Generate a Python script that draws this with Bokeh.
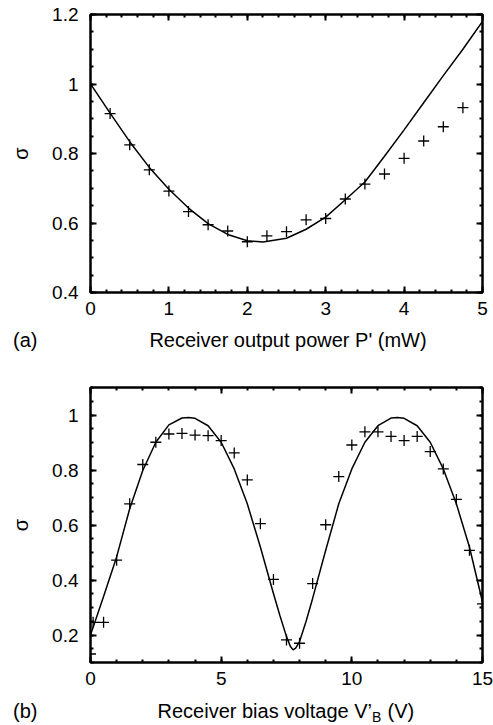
from bokeh.plotting import figure
from bokeh.models import LinearAxis, SingleIntervalTicker, FixedTicker, Range1d
from bokeh.layouts import column
from bokeh.core.properties import value
from bokeh.embed import file_html
from bokeh.resources import INLINE

FONT = "Liberation Sans"

# ---------------- data: panel (a) ----------------
a_meas_x = [0.25, 0.5, 0.75, 1.0, 1.25, 1.5, 1.75, 2.0, 2.25, 2.5,
            2.75, 3.0, 3.25, 3.5, 3.75, 4.0, 4.25, 4.5, 4.75]
a_meas_y = [0.915, 0.825, 0.753, 0.692, 0.633, 0.595, 0.577, 0.546, 0.563, 0.575,
            0.609, 0.613, 0.669, 0.712, 0.741, 0.786, 0.836, 0.877, 0.932]
a_fit_x = [0, 0.25, 0.5, 0.75, 1.0, 1.25, 1.5, 1.75, 2.0, 2.2, 2.5,
           2.75, 3.0, 3.25, 3.5, 3.75, 4.0, 4.25, 4.5, 4.75, 5.0]
a_fit_y = [1.0, 0.916, 0.834, 0.760, 0.697, 0.643, 0.598, 0.567, 0.549, 0.545, 0.556,
           0.582, 0.617, 0.667, 0.718, 0.792, 0.868, 0.946, 1.024, 1.100, 1.180]

# ---------------- data: panel (b) ----------------
b_meas_x = [0, 0.1, 0.5, 1.0, 1.5, 2.0, 2.5, 3.0, 3.5, 4.0, 4.5, 5.0, 5.5, 6.0,
            6.5, 7.0, 7.5, 8.0, 8.5, 9.0, 9.5, 10.0, 10.5, 11.0, 11.5, 12.0,
            12.5, 13.0, 13.5, 14.0, 14.5, 15.0]
b_meas_y = [0.131, 0.246, 0.246, 0.472, 0.677, 0.820, 0.901, 0.931, 0.933, 0.927,
            0.925, 0.907, 0.862, 0.764, 0.605, 0.402, 0.182, 0.170, 0.387, 0.601,
            0.776, 0.891, 0.939, 0.939, 0.922, 0.907, 0.922, 0.867, 0.804, 0.693,
            0.508, 0.313]
b_fit_x = [0, 0.5, 1.0, 1.5, 2.0, 2.5, 3.0, 3.5, 3.75, 4.0, 4.5, 5.0, 5.5, 6.0,
           6.5, 7.0, 7.25, 7.5, 7.65, 7.75, 7.85, 8.0, 8.25, 8.5, 9.0, 9.5, 10.0,
           10.5, 11.0, 11.5, 11.75, 12.0, 12.5, 13.0, 13.5, 14.0, 14.5, 15.0]
b_fit_y = [0.200, 0.340, 0.484, 0.659, 0.798, 0.901, 0.964, 0.989, 0.991, 0.988,
           0.961, 0.901, 0.804, 0.677, 0.520, 0.351, 0.270, 0.194, 0.158, 0.146,
           0.152, 0.176, 0.250, 0.333, 0.508, 0.677, 0.804, 0.901, 0.961, 0.989,
           0.991, 0.988, 0.961, 0.901, 0.804, 0.677, 0.520, 0.320]

a_xlabel = "Receiver output power P' (mW)"
b_xlabel_main = "Receiver bias voltage V\u2019"
b_xlabel_sub = "B"
b_xlabel_tail = "(V)"
y_label = "\u03c3"
panel_tags = ["(a)", "(b)"]

TICK_FS = "19px"
LABEL_FS = "20px"
SUB_FS = "14px"
W = 493
LEFT = 90      # shared frame left edge (figures in a column share frame edges)
RIGHT = 11     # shared right border


def style_axis(ax, show_labels):
    ax.axis_line_width = 2
    ax.axis_line_color = "black"
    ax.major_tick_in = 6
    ax.major_tick_out = 0
    ax.minor_tick_in = 3
    ax.minor_tick_out = 0
    ax.major_tick_line_width = 2
    ax.minor_tick_line_width = 2
    ax.major_tick_line_color = "black"
    ax.minor_tick_line_color = "black"
    ax.major_label_text_font = FONT
    ax.axis_label_text_font = FONT
    ax.axis_label_text_font_size = LABEL_FS
    ax.axis_label_text_font_style = "normal"
    ax.axis_label_text_color = "black"
    if show_labels:
        ax.major_label_text_font_size = TICK_FS
        ax.major_label_text_color = "black"
    else:
        ax.major_label_text_font_size = "0px"
        ax.major_label_text_color = None
        ax.major_label_standoff = 0


def make_panel(xr, yr, xint, xminor, yint, yminor, h, top_b, bottom_b):
    p = figure(width=W, height=h, x_range=Range1d(*xr), y_range=Range1d(*yr),
               output_backend="svg", toolbar_location=None,
               min_border_left=LEFT, min_border_right=RIGHT,
               min_border_top=top_b, min_border_bottom=bottom_b)
    p.xgrid.visible = False
    p.ygrid.visible = False
    p.outline_line_color = "black"
    p.outline_line_width = 2
    p.background_fill_color = "white"
    p.border_fill_color = "white"
    xb = p.xaxis[0]
    yl = p.yaxis[0]
    xb.ticker = SingleIntervalTicker(interval=xint, num_minor_ticks=xminor)
    yl.ticker = SingleIntervalTicker(interval=yint, num_minor_ticks=yminor)
    style_axis(xb, True)
    style_axis(yl, True)
    top = LinearAxis(ticker=SingleIntervalTicker(interval=xint, num_minor_ticks=xminor))
    right = LinearAxis(ticker=SingleIntervalTicker(interval=yint, num_minor_ticks=yminor))
    style_axis(top, False)
    style_axis(right, False)
    p.add_layout(top, "above")
    p.add_layout(right, "right")
    xb.major_label_standoff = 9
    yl.major_label_standoff = 12
    yl.axis_label = y_label
    yl.axis_label_standoff = 17
    return p


def make_strip(h, tag, tag_y):
    # a label row; its frame spans the same columns as the panels above it,
    # so x data units equal picture pixels
    s = figure(width=W, height=h, x_range=Range1d(LEFT, W - RIGHT), y_range=Range1d(h, 0),
               output_backend="svg", toolbar_location=None,
               x_axis_location=None, y_axis_location=None,
               min_border_left=LEFT, min_border_right=RIGHT,
               min_border_top=0, min_border_bottom=0)
    s.xgrid.visible = False
    s.ygrid.visible = False
    s.outline_line_color = None
    s.background_fill_color = "white"
    s.border_fill_color = "white"
    # panel tag "(a)"/"(b)" as the single tick label of a bare left axis
    tag_axis = LinearAxis(ticker=FixedTicker(ticks=[tag_y]),
                          major_label_overrides={tag_y: tag})
    tag_axis.axis_line_color = None
    tag_axis.major_tick_line_color = None
    tag_axis.minor_tick_line_color = None
    tag_axis.major_tick_in = 0
    tag_axis.major_tick_out = 0
    tag_axis.major_label_text_font = FONT
    tag_axis.major_label_text_font_size = LABEL_FS
    tag_axis.major_label_text_color = "black"
    tag_axis.major_label_standoff = 53
    s.add_layout(tag_axis, "left")
    return s


def put_text(s, x, y, txt, size=LABEL_FS, align="left"):
    s.text(x=[x], y=[y], text=[txt], text_font=value(FONT), text_font_size=size,
           text_baseline="middle", text_align=align, text_color="black")


# ---------------- panel (a) ----------------
H1 = 326
p1 = make_panel((0, 5), (0.4, 1.2000001), 1, 5, 0.2, 4, H1, 14, 34)
p1.line(a_fit_x, a_fit_y, line_color="black", line_width=1.5)
p1.scatter(a_meas_x, a_meas_y, marker="cross", size=11, line_color="black", line_width=1.3)

HS1 = 30
s1 = make_strip(HS1, panel_tags[0], 13)
put_text(s1, 287.5, 13, a_xlabel, align="center")

# ---------------- panel (b) ----------------
H2 = 340
p2 = make_panel((0, 15), (0.1, 1.1), 5, 5, 0.2, 4, H2, 31, 34)
p2.line(b_fit_x, b_fit_y, line_color="black", line_width=1.5)
p2.scatter(b_meas_x, b_meas_y, marker="cross", size=11, line_color="black", line_width=1.3)

HS2 = 725 - H1 - HS1 - H2
s2 = make_strip(HS2, panel_tags[1], 14)
lab_x0 = 157
put_text(s2, lab_x0, 14, b_xlabel_main)
put_text(s2, lab_x0 + 214.5, 20, b_xlabel_sub, size=SUB_FS)
put_text(s2, lab_x0 + 230, 14, b_xlabel_tail)

layout = column(p1, s1, p2, s2, spacing=0)
open("out.html", "w").write(file_html(layout, INLINE))
